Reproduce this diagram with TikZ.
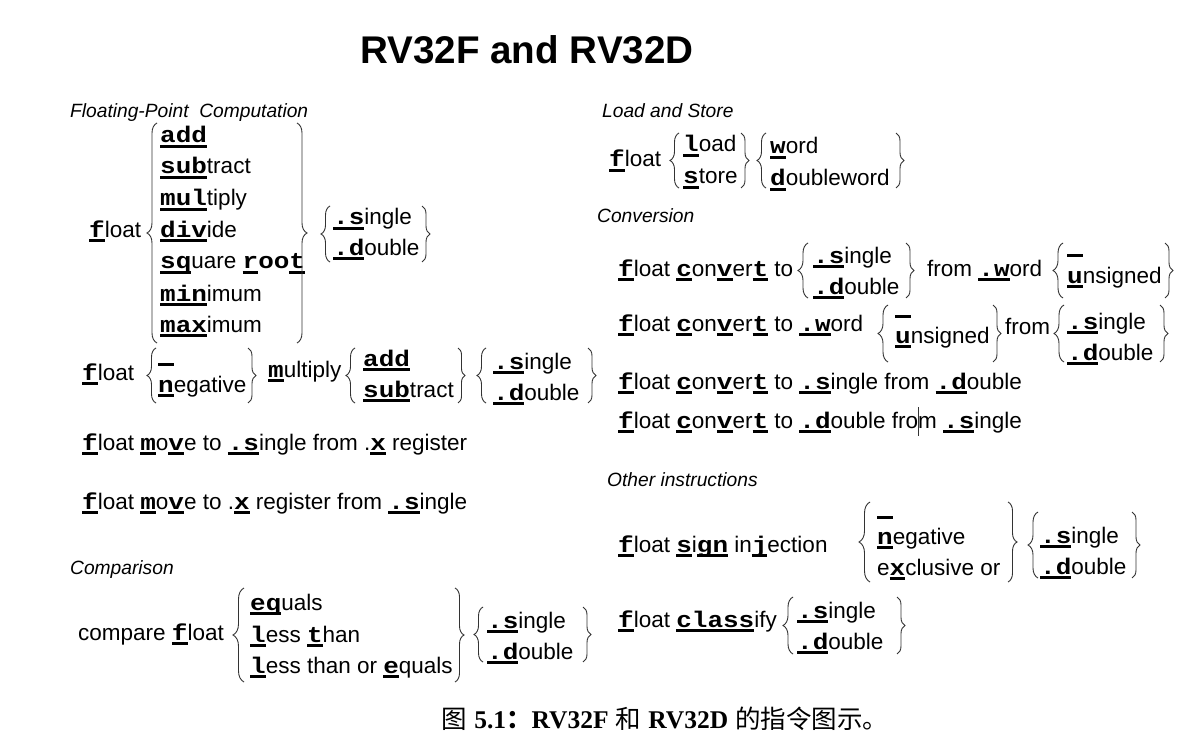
\documentclass[tikz,border=0pt]{standalone}
\usepackage{fontspec}
\usepackage{graphicx}
\setmainfont{Liberation Sans}
\newfontfamily\cbfam{Liberation Mono}
\newfontfamily\cjk{Noto Sans CJK SC}
\newfontfamily\serifb{Liberation Serif}
\usetikzlibrary{decorations.pathreplacing}
\newcommand\monob{\cbfam\bfseries\fontsize{22.6}{27}\selectfont}
\newcommand\ulm[1]{\setbox0=\hbox{\scalebox{1.15}[1]{\monob #1}}\rlap{\rule[-5pt]{\wd0}{3pt}}\box0\relax}
\newcommand\cb[1]{\scalebox{1.15}[1]{\monob #1}}
\newcommand\blankopt{\ulm{\ }}
\newcommand\lbrc[4][9pt]{\draw[br=#1] (#2,#4) -- (#2,#3);}
\newcommand\rbrc[4][8pt]{\draw[br=#1] (#2,#3) -- (#2,#4);}
\tikzset{
  txt/.style={anchor=base west, inner sep=0pt, font=\fontsize{22.5}{27}\selectfont},
  head/.style={anchor=base west, inner sep=0pt, font=\fontsize{19.2}{23}\selectfont\itshape},
  br/.style={decorate, decoration={brace, amplitude=#1}, draw=black!80, line width=0.9pt},
  br/.default=9pt
}
\begin{document}
\begin{tikzpicture}[x=1pt, y=-1pt]
\fill[white] (0,0) rectangle (1198,751);
\useasboundingbox (0,0) rectangle (1198,751);

% title
\node[anchor=base, inner sep=0pt, font=\fontsize{38.6}{44}\selectfont\bfseries] (title) at (527,64) {RV32F and RV32D};

% ---------- Floating-point computation
\node[head] (h1) at (70,118) {Floating-Point\ \ Computation};
\node[txt] (a0) at (89,237) {\ulm{f}loat};
\node[txt] (a1) at (160,143) {\ulm{add}};
\node[txt] (a2) at (160,174) {\ulm{sub}tract};
\node[txt] (a3) at (160,206) {\ulm{mul}tiply};
\node[txt] (a4) at (160,237) {\ulm{div}ide};
\node[txt] (a5) at (160,269) {\ulm{sq}uare \ulm{r}\cb{oo}\ulm{t}};
\node[txt] (a6) at (160,301) {\ulm{min}imum};
\node[txt] (a7) at (160,332) {\ulm{max}imum};
\node[txt] (a8) at (333,225) {\ulm{.s}ingle};
\node[txt] (a9) at (333,255) {\ulm{.d}ouble};
\lbrc[10pt]{157}{123}{343}
\rbrc[10pt]{297}{123}{343}
\lbrc{330}{206}{262}
\rbrc{422}{206}{262}

% ---------- fused multiply
\node[txt] (b0) at (82,380) {\ulm{f}loat};
\node[txt] (b1) at (158,361) {\blankopt};
\node[txt] (b2) at (158,392) {\ulm{n}egative};
\node[txt] (b3) at (268,377) {\ulm{m}ultiply};
\node[txt] (b4) at (363,366) {\ulm{add}};
\node[txt] (b5) at (363,397) {\ulm{sub}tract};
\node[txt] (b6) at (493,369) {\ulm{.s}ingle};
\node[txt] (b7) at (493,400) {\ulm{.d}ouble};
\lbrc{156}{348}{403}
\rbrc{248}{348}{403}
\lbrc{355}{348}{403}
\rbrc[7pt]{458}{348}{403}
\lbrc{486}{348}{403}
\rbrc{588}{348}{403}

% ---------- move
\node[txt] (m1) at (82,450) {\ulm{f}loat \ulm{m}o\ulm{v}e to \ulm{.s}ingle from .\ulm{x} register};
\node[txt] (m2) at (82,509) {\ulm{f}loat \ulm{m}o\ulm{v}e to .\ulm{x} register from \ulm{.s}ingle};

% ---------- comparison
\node[head] (h2) at (70,574) {Comparison};
\node[txt] (c0) at (78,640) {compare \ulm{f}loat};
\node[txt] (c1) at (250,610) {\ulm{eq}uals};
\node[txt] (c2) at (250,642) {\ulm{l}ess \ulm{t}han};
\node[txt] (c3) at (250,673) {\ulm{l}ess than or \ulm{e}quals};
\node[txt] (c4) at (487,628) {\ulm{.s}ingle};
\node[txt] (c5) at (487,659) {\ulm{.d}ouble};
\lbrc[11pt]{244}{588}{682}
\rbrc[9pt]{455}{588}{682}
\lbrc{483}{607}{662}
\rbrc{583}{607}{662}

% ---------- load and store
\node[head] (h3) at (602,118) {Load and Store};
\node[txt] (l0) at (609,167) {\ulm{f}loat};
\node[txt] (l1) at (683,152) {\ulm{l}oad};
\node[txt] (l2) at (683,184) {\ulm{s}tore};
\node[txt] (l3) at (770,154) {\ulm{w}ord};
\node[txt] (l4) at (770,186) {\ulm{d}oubleword};
\lbrc{679}{133}{188}
\rbrc{741}{133}{188}
\lbrc{766}{133}{188}
\rbrc{896}{133}{188}

% ---------- conversion
\node[head] (h4) at (597,223) {Conversion};
\node[txt] (v0) at (618,276) {\ulm{f}loat \ulm{c}on\ulm{v}er\ulm{t} to};
\node[txt] (v1) at (813,263) {\ulm{.s}ingle};
\node[txt] (v2) at (813,294) {\ulm{.d}ouble};
\node[txt] (v3) at (927,276) {from \ulm{.w}ord};
\node[txt] (v4) at (1067,252) {\blankopt};
\node[txt] (v5) at (1067,283) {\ulm{u}nsigned};
\lbrc[10pt]{808}{243}{298}
\rbrc{906}{243}{298}
\lbrc[10pt]{1063}{243}{298}
\rbrc{1165}{243}{298}

\node[txt] (w0) at (618,331) {\ulm{f}loat \ulm{c}on\ulm{v}er\ulm{t} to \ulm{.w}ord};
\node[txt] (w1) at (895,313) {\blankopt};
\node[txt] (w2) at (895,343) {\ulm{u}nsigned};
\node[txt] (w3) at (1005,334) {from};
\node[txt] (w4) at (1067,329) {\ulm{.s}ingle};
\node[txt] (w5) at (1067,360) {\ulm{.d}ouble};
\lbrc[10pt]{888}{305}{362}
\rbrc{993}{305}{362}
\lbrc[10pt]{1064}{305}{362}
\rbrc{1160}{305}{362}

\node[txt] (x1) at (618,389) {\ulm{f}loat \ulm{c}on\ulm{v}er\ulm{t} to \ulm{.s}ingle from \ulm{.d}ouble};
\node[txt] (x2) at (618,428) {\ulm{f}loat \ulm{c}on\ulm{v}er\ulm{t} to \ulm{.d}ouble from \ulm{.s}ingle};
\draw[line width=1pt, black!80] (918,407) -- (918,436);

% ---------- other instructions
\node[head] (h5) at (607,486) {Other instructions};
\node[txt] (o0) at (618,552) {\ulm{f}loat \ulm{s}i\ulm{gn} in\ulm{j}ection};
\node[txt] (o1) at (877,514) {\blankopt};
\node[txt] (o2) at (877,544) {\ulm{n}egative};
\node[txt] (o3) at (877,575) {e\ulm{x}clusive or};
\node[txt] (o4) at (1040,543) {\ulm{.s}ingle};
\node[txt] (o5) at (1040,574) {\ulm{.d}ouble};
\lbrc[11pt]{870}{502}{582}
\rbrc[9pt]{1008}{502}{582}
\lbrc[10pt]{1038}{512}{578}
\rbrc{1132}{512}{578}

\node[txt] (k0) at (618,627) {\ulm{f}loat \ulm{class}ify};
\node[txt] (k1) at (797,618) {\ulm{.s}ingle};
\node[txt] (k2) at (797,649) {\ulm{.d}ouble};
\lbrc[10pt]{793}{597}{654}
\rbrc{897}{597}{654}

% ---------- caption
\node[anchor=base, inner sep=0pt, font=\fontsize{25.5}{30}\selectfont] (cap) at (665,728)
  {{\cjk 图} {\serifb\bfseries 5.1}{\cjk\bfseries ：}{\serifb\bfseries RV32F} {\cjk 和} {\serifb\bfseries RV32D} {\cjk 的指令图示。}};
\end{tikzpicture}
\end{document}
